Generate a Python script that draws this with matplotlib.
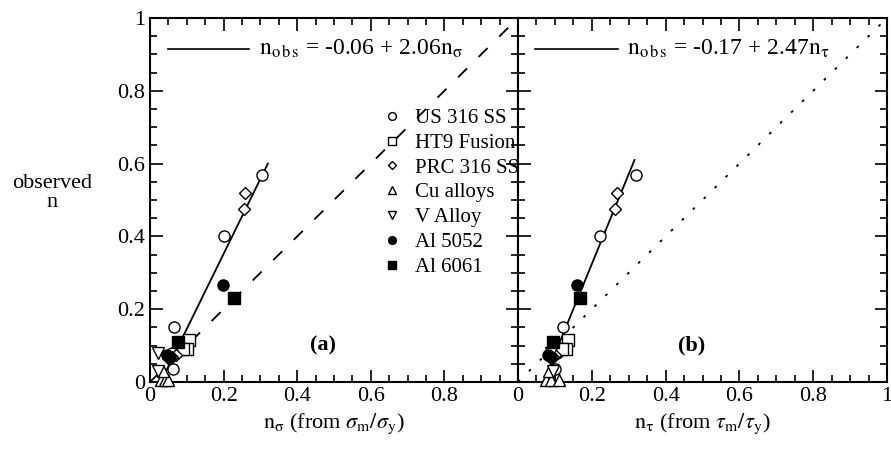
import numpy as np
import matplotlib.pyplot as plt
from matplotlib.ticker import MultipleLocator, FuncFormatter
from matplotlib.lines import Line2D

plt.rcParams['font.family'] = ['Liberation Serif', 'DejaVu Serif']
plt.rcParams['mathtext.fontset'] = 'stix'

# observed n, n from sigma_m/sigma_y, n from tau_m/tau_y
us316_obs = [0.57, 0.40, 0.15, 0.035, 0.08]
us316_sig = [0.305, 0.20, 0.065, 0.063, 0.06]
us316_tau = [0.320, 0.222, 0.122, 0.100, 0.105]

ht9_obs = [0.115, 0.09, 0.09]
ht9_sig = [0.105, 0.100, 0.090]
ht9_tau = [0.136, 0.130, 0.120]

prc316_obs = [0.52, 0.474, 0.075, 0.07, 0.065]
prc316_sig = [0.258, 0.255, 0.070, 0.060, 0.050]
prc316_tau = [0.269, 0.263, 0.100, 0.095, 0.090]

cu_obs = [0.005, 0.005, 0.005, 0.03]
cu_sig = [0.030, 0.040, 0.050, 0.035]
cu_tau = [0.075, 0.090, 0.110, 0.085]

v_obs = [0.08, 0.03]
v_sig = [0.022, 0.022]
v_tau = [0.090, 0.095]

al5052_obs = [0.266, 0.074, 0.07]
al5052_sig = [0.198, 0.045, 0.055]
al5052_tau = [0.161, 0.082, 0.090]

al6061_obs = [0.232, 0.111]
al6061_sig = [0.228, 0.077]
al6061_tau = [0.168, 0.096]

fit_a = (-0.06, 2.06)
fit_b = (-0.17, 2.47)

series = [
    ("US 316 SS", "o", False, us316_obs, us316_sig, us316_tau),
    ("HT9 Fusion", "s", False, ht9_obs, ht9_sig, ht9_tau),
    ("PRC 316 SS", "D", False, prc316_obs, prc316_sig, prc316_tau),
    ("Cu alloys", "^", False, cu_obs, cu_sig, cu_tau),
    ("V Alloy", "v", False, v_obs, v_sig, v_tau),
    ("Al 5052", "o", True, al5052_obs, al5052_sig, al5052_tau),
    ("Al 6061", "s", True, al6061_obs, al6061_sig, al6061_tau),
]
msize = {"o": 8, "s": 8, "D": 6, "^": 8, "v": 8}

fig = plt.figure(figsize=(8.91, 4.5), dpi=100)
ax_a = fig.add_axes([150 / 891, 68 / 450, 368 / 891, 364 / 450])
ax_b = fig.add_axes([518 / 891, 68 / 450, 369 / 891, 364 / 450])


def fmt(v, pos):
    if abs(v) < 1e-9:
        return "0"
    if abs(v - 1) < 1e-9:
        return "1"
    return "%.1f" % v


for ax in (ax_a, ax_b):
    ax.set_xlim(0, 1)
    ax.set_ylim(0, 1)
    ax.xaxis.set_major_locator(MultipleLocator(0.2))
    ax.yaxis.set_major_locator(MultipleLocator(0.2))
    ax.xaxis.set_minor_locator(MultipleLocator(0.05))
    ax.yaxis.set_minor_locator(MultipleLocator(0.05))
    ax.tick_params(which="both", direction="in", top=True, right=True,
                   labelsize=16, width=1.2)
    ax.tick_params(which="major", length=9)
    ax.tick_params(which="minor", length=5)
    ax.xaxis.set_major_formatter(FuncFormatter(fmt))
    ax.yaxis.set_major_formatter(FuncFormatter(fmt))
    for s in ax.spines.values():
        s.set_linewidth(1.5)

ax_a.xaxis.set_major_formatter(FuncFormatter(lambda v, p: "" if v > 0.99 else fmt(v, p)))
ax_b.tick_params(labelleft=False)

for name, m, fill, obs, sig, tau in series:
    for ax, xs in ((ax_a, sig), (ax_b, tau)):
        ax.plot(xs, obs, linestyle="none", marker=m, ms=msize[m],
                mfc="black" if fill else "white", mec="black", mew=1.0,
                clip_on=False, zorder=3)

# fitted lines and 1:1 lines
ya = np.array([0.0, 0.6])
ax_a.plot((ya - fit_a[0]) / fit_a[1], ya, color="black", lw=1.3, zorder=2)
ax_a.plot([0, 1], [0, 1], color="black", lw=1.3, linestyle=(0, (7, 9)), zorder=1)
yb = np.array([0.0, 0.61])
ax_b.plot((yb - fit_b[0]) / fit_b[1], yb, color="black", lw=1.3, zorder=2)
ax_b.plot([0, 1], [0, 1], color="black", lw=1.3, linestyle=(0, (1.5, 7)), zorder=1)

# equation labels
ax_a.plot([0.05, 0.27], [0.915, 0.915], color="black", lw=1.2, transform=ax_a.transAxes)
ax_a.text(0.295, 0.915, r"$\mathrm{n_{o\,b\,s}}$ = -0.06 + 2.06$\mathrm{n_{\sigma}}$",
          transform=ax_a.transAxes, fontsize=17, va="center", ha="left")
ax_b.plot([0.045, 0.27], [0.915, 0.915], color="black", lw=1.2, transform=ax_b.transAxes)
ax_b.text(0.295, 0.915, r"$\mathrm{n_{o\,b\,s}}$ = -0.17 + 2.47$\mathrm{n_{\tau}}$",
          transform=ax_b.transAxes, fontsize=17, va="center", ha="left")

ax_a.text(0.47, 0.10, "(a)", transform=ax_a.transAxes, fontsize=16,
          fontweight="bold", ha="center", va="center")
ax_b.text(0.47, 0.10, "(b)", transform=ax_b.transAxes, fontsize=16,
          fontweight="bold", ha="center", va="center")

ax_a.set_xlabel(r"$\mathrm{n_{\sigma}}$ (from $\sigma_\mathrm{m}/\sigma_\mathrm{y}$)", fontsize=16, labelpad=4)
ax_b.set_xlabel(r"$\mathrm{n_{\tau}}$ (from $\tau_\mathrm{m}/\tau_\mathrm{y}$)", fontsize=16, labelpad=4)
ax_a.text(-0.265, 0.52, "observed\nn", transform=ax_a.transAxes, fontsize=16,
          ha="center", va="center", linespacing=1.0)

handles = [Line2D([], [], linestyle="none", marker=m, ms=msize[m] * 0.7,
                  mfc="black" if fill else "white", mec="black", mew=1.0)
           for name, m, fill, *_ in series]
ax_a.legend(handles, [s[0] for s in series], loc="upper left",
            bbox_to_anchor=(0.6, 0.78), frameon=False, fontsize=15,
            handlelength=1.0, handletextpad=0.6, labelspacing=0.25,
            borderpad=0)

fig.savefig("out.png", dpi=100)
